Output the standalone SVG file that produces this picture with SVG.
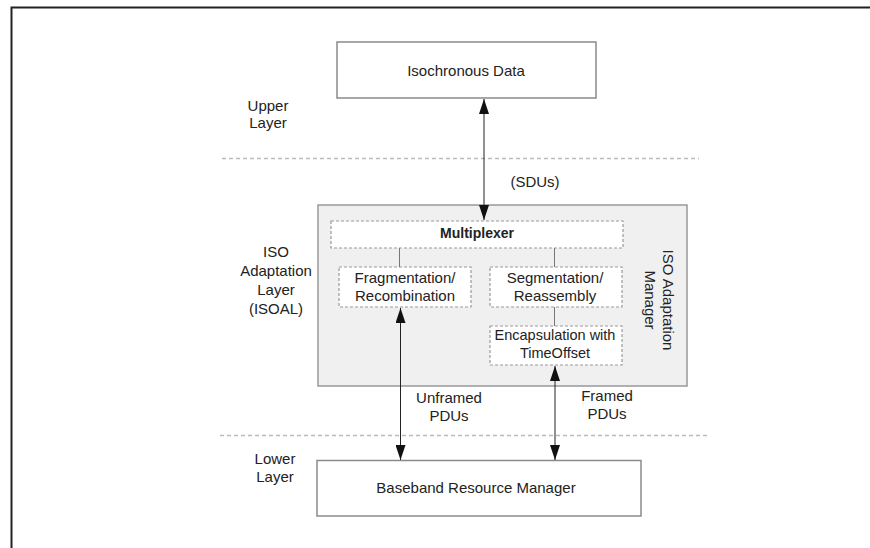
<svg xmlns="http://www.w3.org/2000/svg" width="870" height="548" viewBox="0 0 870 548">
<defs>
<style>
text{font-family:"Liberation Sans",Arial,sans-serif;font-size:15px;fill:#222;text-anchor:middle}
.box{fill:#fff;stroke:#8a8a8a;stroke-width:1.5}
.dbox{fill:#fff;stroke:#9a9a9a;stroke-width:1.2;stroke-dasharray:3 2}
.layer{stroke:#bbb;stroke-width:1.5;stroke-dasharray:4 3;fill:none}
.arr{stroke:#222;stroke-width:1;fill:none;marker-start:url(#ah);marker-end:url(#ah)}
.link{stroke:#777;stroke-width:1;fill:none}
.b{font-weight:bold;font-size:14px}
</style>
<marker id="ah" viewBox="0 0 15 10" refX="15" refY="5" markerWidth="15" markerHeight="10" markerUnits="userSpaceOnUse" orient="auto-start-reverse">
<path d="M0,0 L15,5 L0,10 Z" fill="#111"/>
</marker>
</defs>
<rect width="870" height="548" fill="#fff"/>
<path d="M11.5,548 V7.5 H870" fill="none" stroke="#222" stroke-width="2"/>
<g id="layers">
<line class="layer" x1="222" y1="158.5" x2="699" y2="158.5"/>
<line class="layer" x1="220" y1="435.5" x2="709" y2="435.5"/>
<text x="268" y="111">Upper</text>
<text x="268" y="128">Layer</text>
<text x="276" y="257">ISO</text>
<text x="276" y="276">Adaptation</text>
<text x="276" y="295">Layer</text>
<text x="276" y="314">(ISOAL)</text>
<text x="275" y="464">Lower</text>
<text x="275" y="482">Layer</text>
</g>
<g id="iso-data">
<rect class="box" x="337" y="42" width="259" height="56"/>
<text x="466" y="76">Isochronous Data</text>
</g>
<g id="isoal">
<rect x="318" y="205" width="369" height="181" fill="#f0f0f0" stroke="#999" stroke-width="1.5"/>
<text transform="translate(663,300) rotate(90)">ISO Adaptation</text>
<text transform="translate(645,300) rotate(90)">Manager</text>
</g>
<g id="mux">
<rect class="dbox" x="331" y="221" width="292" height="27"/>
<text class="b" x="477" y="238">Multiplexer</text>
</g>
<g id="frag">
<rect class="dbox" x="339" y="267" width="132" height="40"/>
<text x="405" y="283">Fragmentation/</text>
<text x="405" y="301">Recombination</text>
</g>
<g id="seg">
<rect class="dbox" x="490" y="267" width="132" height="40"/>
<text x="555" y="283">Segmentation/</text>
<text x="555" y="301">Reassembly</text>
</g>
<g id="encap">
<rect class="dbox" x="490" y="326" width="132" height="39"/>
<text x="555" y="340" style="font-size:14.5px">Encapsulation with</text>
<text x="555" y="358" style="font-size:14.5px">TimeOffset</text>
</g>
<g id="baseband">
<rect class="box" x="317" y="460.5" width="324" height="55.5"/>
<text x="476" y="493">Baseband Resource Manager</text>
</g>
<g id="connectors">
<line class="link" x1="399.5" y1="248" x2="399.5" y2="267"/>
<line class="link" x1="554.5" y1="248" x2="554.5" y2="267"/>
<line class="link" x1="554.5" y1="307" x2="554.5" y2="326"/>
<line class="arr" x1="484" y1="99" x2="484" y2="220"/>
<line class="arr" x1="400.5" y1="308" x2="400.5" y2="460"/>
<line class="arr" x1="555" y1="366" x2="555" y2="460"/>
<text x="535" y="187">(SDUs)</text>
<text x="449" y="403">Unframed</text>
<text x="449" y="421">PDUs</text>
<text x="607" y="401">Framed</text>
<text x="607" y="419">PDUs</text>
</g>
</svg>
